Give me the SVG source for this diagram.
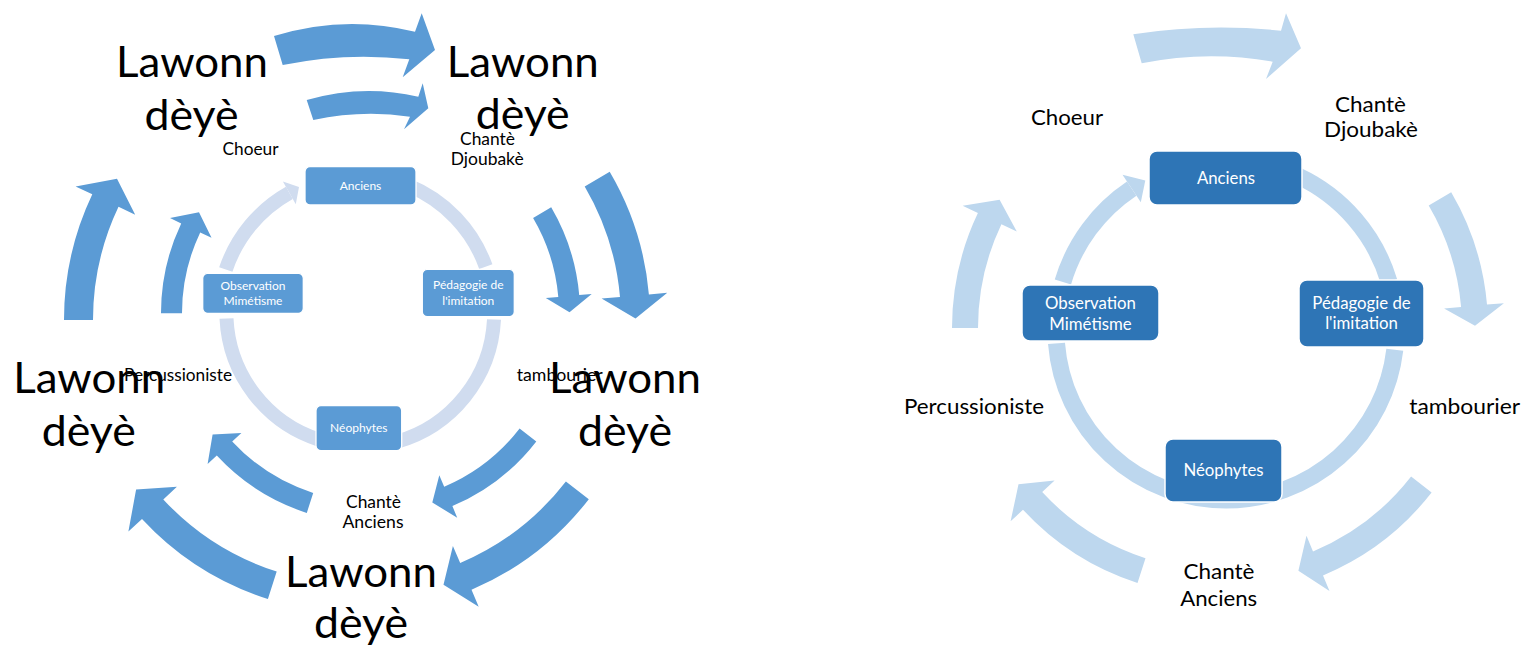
<svg xmlns="http://www.w3.org/2000/svg" width="1523" height="649" viewBox="0 0 1523 649">
<style>
.aL{fill:#5B9BD5}
.aR{fill:#BDD7EE}
.rL{fill:none;stroke:#D0DCEF;stroke-width:14}
.rR{fill:none;stroke:#BDD7EE;stroke-width:17}
.hL{fill:#D0DCEF}
.hR{fill:#BDD7EE}
.bL{fill:#5B9BD5;stroke:#fff;stroke-width:1.3}
.bR{fill:#2E75B6;stroke:#fff;stroke-width:1.5}
text{font-family:Lato,"Open Sans","Liberation Sans",sans-serif;text-anchor:middle;fill:#000}
.big{font-size:43px}
.sL{font-size:16.8px}
.sR{font-size:21.5px}
.tL{font-size:12px;fill:#fff}
.tR{font-size:16.8px;fill:#fff}
</style>
<rect width="1523" height="649" fill="#fff"/>
<g id="connectors">
<!-- left diagram outer ring of arrows -->
<path class="aL" d="M274,36 Q344.5,14.2 415,31.7 L421.7,13.3 L435,50 L402.7,77.3 L409.3,59.3 Q346,51.9 282.7,65 Z"/>
<path class="aL" d="M609.7,171.7 A293,293 0 0 1 648.9,294.5 L667.3,292.8 L635.5,318.5 L601.6,298.6 L620,297 A264,264 0 0 0 584.7,186.4 Z"/>
<path class="aL" d="M588.8,499.2 A293,293 0 0 1 471.5,589.7 L478.7,606.7 L443.5,584.7 L452.9,546 L460.2,563 A264,264 0 0 0 565.9,481.4 Z"/>
<path class="aL" d="M267.9,599.1 A293,293 0 0 1 142,519.1 L128.4,531.6 L136.1,489.5 L176.9,486.8 L163.3,499.4 A264,264 0 0 0 276.7,571.5 Z"/>
<path class="aL" d="M64,320 A293,293 0 0 1 92.3,194.3 L75.6,186.4 L117,178.7 L135.2,214.7 L118.5,206.8 A264,264 0 0 0 93,320 Z"/>
<!-- left diagram inner ring of arrows -->
<path class="aL" d="M306.7,100 Q362.5,83.7 418.3,96.7 L422.7,83.3 L428.3,108.3 L404,129.3 L410,116.7 Q361.7,109.7 313.3,120 Z"/>
<path class="aL" d="M551.2,207.3 A209.5,209.5 0 0 1 579.2,295 L591.7,294 L569.5,312.3 L545.8,298 L558.3,296.9 A188.5,188.5 0 0 0 533.1,217.9 Z"/>
<path class="aL" d="M536.3,441.4 A209.5,209.5 0 0 1 452.4,506.1 L457.2,517.7 L432.3,502.5 L439.3,475.3 L444.2,486.8 A188.5,188.5 0 0 0 519.6,428.6 Z"/>
<path class="aL" d="M306.8,512.9 A209.5,209.5 0 0 1 216.8,455.6 L207.6,464.1 L212.6,434.4 L241.4,432.9 L232.2,441.4 A188.5,188.5 0 0 0 313.2,492.9 Z"/>
<path class="aL" d="M161,313.3 A209.5,209.5 0 0 1 181.2,223.4 L170,218.1 L199,212.3 L211.5,237.8 L200.2,232.4 A188.5,188.5 0 0 0 182,313.3 Z"/>
<!-- left diagram cycle ring -->
<path class="rL" d="M225.8,269.5 A138,138 0 0 1 289.35,192.85"/>
<polygon class="hL" points="282.9,181.5 299,187 295.8,204.2"/>
<path class="rL" d="M408.4,185.5 A137,137 0 0 1 485.8,266.7"/>
<path class="rL" d="M494,319.5 A134,134 0 0 1 396,442"/>
<path class="rL" d="M320,440 A134,134 0 0 1 226.5,318.5"/>
<!-- right diagram outer ring of arrows -->
<path class="aR" d="M1133.3,34.3 Q1207,23 1281,30.7 L1286,13.3 L1301,48.3 L1266,79 L1272.7,61.7 Q1207,50 1141.7,63.3 Z"/>
<path class="aR" d="M1451.2,192.3 A268,268 0 0 1 1487,304.6 L1503.9,303.2 L1475,325.8 L1444.1,308.4 L1461.1,306.9 A242,242 0 0 0 1428.7,205.5 Z"/>
<path class="aR" d="M1431.6,492.5 A268,268 0 0 1 1323,575.4 L1329.5,591.1 L1298.4,570.7 L1306.5,535.7 L1313,551.4 A242,242 0 0 0 1411.1,476.5 Z"/>
<path class="aR" d="M1137.5,583 A268,268 0 0 1 1023,509.8 L1010.6,521.3 L1018.5,484.3 L1054.6,480.6 L1042.2,492.1 A242,242 0 0 0 1145.5,558.2 Z"/>
<path class="aR" d="M952,328 A268,268 0 0 1 977.9,213.1 L962.6,205.8 L999.6,199.7 L1016.8,231.5 L1001.4,224.2 A242,242 0 0 0 978,328 Z"/>
<!-- right diagram cycle ring -->
<path class="rR" d="M1062.9,282 A170,170 0 0 1 1131.7,188.6"/>
<polygon class="hR" points="1122.5,174.8 1145.3,180.4 1140.8,202.3"/>
<path class="rR" d="M1297.8,175.9 A170,170 0 0 1 1389,281.7"/>
<path class="rR" d="M1394.8,349.8 A170,170 0 0 1 1226,500"/>
<path class="rR" d="M1226,500 A170,170 0 0 1 1056.5,343.3"/>
</g>
<!-- left diagram nodes -->
<g id="L-anciens"><rect class="bL" x="305" y="166.7" width="111" height="38.3" rx="5"/><text class="tL" x="360.5" y="190">Anciens</text></g>
<g id="L-pedagogie"><rect class="bL" x="422.3" y="269.3" width="92" height="47.4" rx="5"/><text class="tL" x="468.3" y="289.3">Pédagogie de</text><text class="tL" x="468.3" y="305">l'imitation</text></g>
<g id="L-observation"><rect class="bL" x="202.7" y="273.3" width="100.6" height="40" rx="5"/><text class="tL" x="253" y="290">Observation</text><text class="tL" x="253" y="305">Mimétisme</text></g>
<g id="L-neophytes"><rect class="bL" x="316" y="405.7" width="85.7" height="45" rx="5"/><text class="tL" x="358.8" y="432">Néophytes</text></g>
<g id="L-labels">
<text class="big" x="192" y="77.3" textLength="152" lengthAdjust="spacingAndGlyphs">Lawonn</text>
<text class="big" x="191.5" y="130" textLength="94" lengthAdjust="spacingAndGlyphs">dèyè</text>
<text class="big" x="522.8" y="76.7" textLength="152" lengthAdjust="spacingAndGlyphs">Lawonn</text>
<text class="big" x="522.7" y="129.3" textLength="94" lengthAdjust="spacingAndGlyphs">dèyè</text>
<text class="big" x="89.2" y="393" textLength="152" lengthAdjust="spacingAndGlyphs">Lawonn</text>
<text class="big" x="88.8" y="445.7" textLength="94" lengthAdjust="spacingAndGlyphs">dèyè</text>
<text class="big" x="625" y="393" textLength="152" lengthAdjust="spacingAndGlyphs">Lawonn</text>
<text class="big" x="625" y="445.7" textLength="94" lengthAdjust="spacingAndGlyphs">dèyè</text>
<text class="big" x="361" y="586.7" textLength="152" lengthAdjust="spacingAndGlyphs">Lawonn</text>
<text class="big" x="361" y="638.3" textLength="94" lengthAdjust="spacingAndGlyphs">dèyè</text>
<text class="sL" x="250.5" y="155" textLength="56" lengthAdjust="spacingAndGlyphs">Choeur</text>
<text class="sL" x="487.5" y="145" textLength="55" lengthAdjust="spacingAndGlyphs">Chantè</text>
<text class="sL" x="487.2" y="165" textLength="73" lengthAdjust="spacingAndGlyphs">Djoubakè</text>
<text class="sL" x="178" y="380.7" textLength="108" lengthAdjust="spacingAndGlyphs">Percussioniste</text>
<text class="sL" x="559.7" y="380.7" textLength="86" lengthAdjust="spacingAndGlyphs">tambourier</text>
<text class="sL" x="373.5" y="507.7" textLength="55" lengthAdjust="spacingAndGlyphs">Chantè</text>
<text class="sL" x="373" y="528" textLength="61" lengthAdjust="spacingAndGlyphs">Anciens</text>
</g>
<!-- right diagram nodes -->
<g id="R-anciens"><rect class="bR" x="1149" y="151" width="153" height="54" rx="8"/><text class="tR" x="1226" y="183.5">Anciens</text></g>
<g id="R-pedagogie"><rect class="bR" x="1299" y="280" width="125" height="67" rx="8"/><text class="tR" x="1361.5" y="308.5">Pédagogie de</text><text class="tR" x="1361.5" y="329">l'imitation</text></g>
<g id="R-observation"><rect class="bR" x="1022" y="285" width="137" height="56" rx="8"/><text class="tR" x="1090.5" y="309">Observation</text><text class="tR" x="1090.5" y="330">Mimétisme</text></g>
<g id="R-neophytes"><rect class="bR" x="1165" y="439" width="117" height="63" rx="8"/><text class="tR" x="1223.5" y="476">Néophytes</text></g>
<g id="R-labels">
<text class="sR" x="1067" y="125" textLength="72" lengthAdjust="spacingAndGlyphs">Choeur</text>
<text class="sR" x="1370.5" y="112.3" textLength="71" lengthAdjust="spacingAndGlyphs">Chantè</text>
<text class="sR" x="1371" y="137.3" textLength="94" lengthAdjust="spacingAndGlyphs">Djoubakè</text>
<text class="sR" x="974" y="414" textLength="140" lengthAdjust="spacingAndGlyphs">Percussioniste</text>
<text class="sR" x="1464.7" y="414" textLength="111" lengthAdjust="spacingAndGlyphs">tambourier</text>
<text class="sR" x="1219" y="579.3" textLength="71" lengthAdjust="spacingAndGlyphs">Chantè</text>
<text class="sR" x="1218.7" y="606" textLength="77" lengthAdjust="spacingAndGlyphs">Anciens</text>
</g>
</svg>
